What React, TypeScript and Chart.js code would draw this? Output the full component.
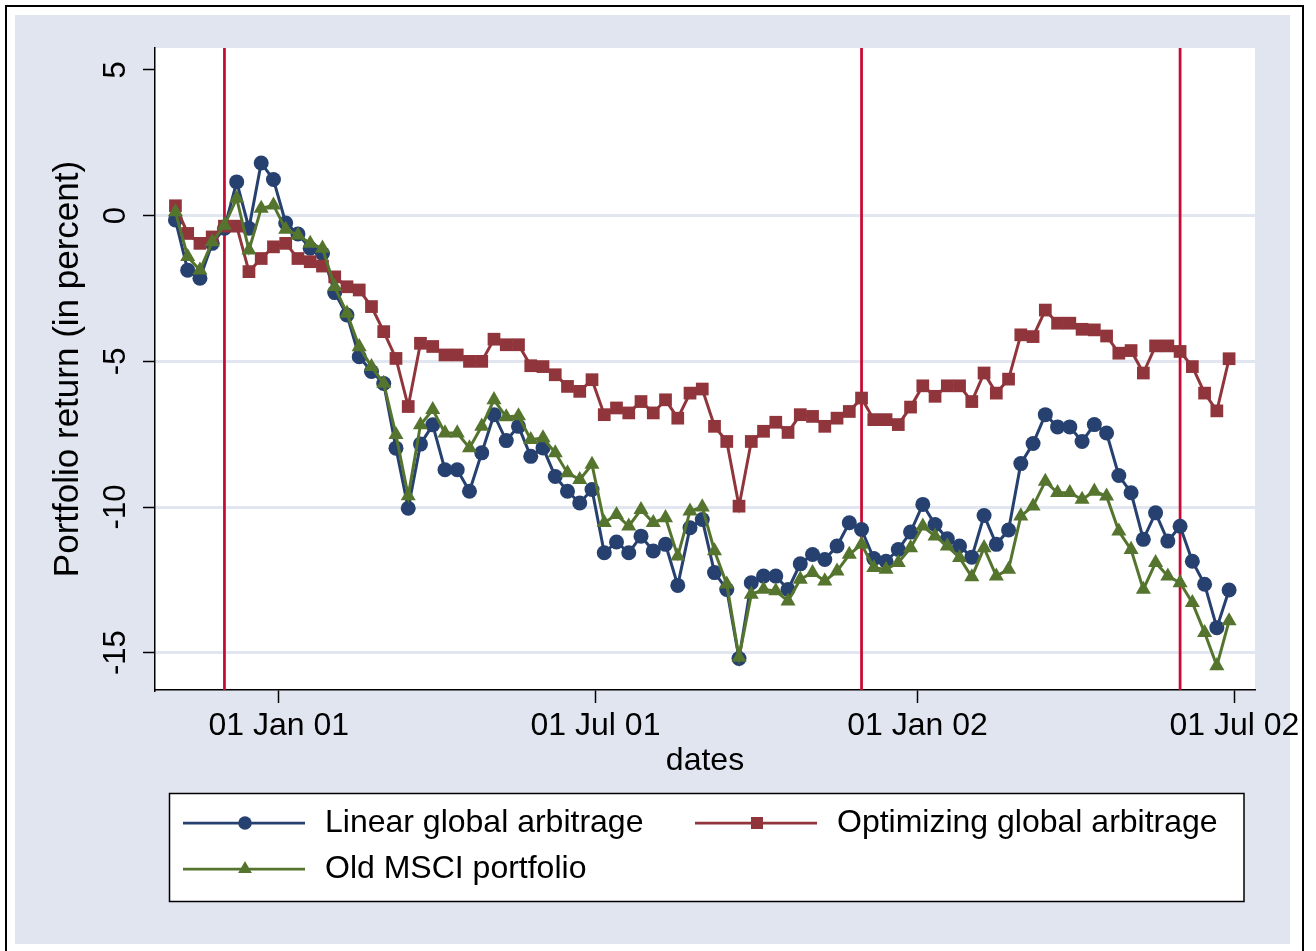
import React, { useEffect, useRef } from 'react';
import { Chart, registerables } from 'chart.js';

Chart.register(...registerables);

// ---------- data ----------
const dates = [
  '2000-11-03', '2000-11-10', '2000-11-17', '2000-11-24', '2000-12-01', '2000-12-08', '2000-12-15', '2000-12-22', '2000-12-29',
  '2001-01-05', '2001-01-12', '2001-01-19', '2001-01-26', '2001-02-02', '2001-02-09', '2001-02-16', '2001-02-23',
  '2001-03-02', '2001-03-09', '2001-03-16', '2001-03-23', '2001-03-30', '2001-04-06', '2001-04-13', '2001-04-20', '2001-04-27',
  '2001-05-04', '2001-05-11', '2001-05-18', '2001-05-25', '2001-06-01', '2001-06-08', '2001-06-15', '2001-06-22', '2001-06-29',
  '2001-07-06', '2001-07-13', '2001-07-20', '2001-07-27', '2001-08-03', '2001-08-10', '2001-08-17', '2001-08-24', '2001-08-31',
  '2001-09-07', '2001-09-14', '2001-09-21', '2001-09-28', '2001-10-05', '2001-10-12', '2001-10-19', '2001-10-26',
  '2001-11-02', '2001-11-09', '2001-11-16', '2001-11-23', '2001-11-30', '2001-12-07', '2001-12-14', '2001-12-21', '2001-12-28',
  '2002-01-04', '2002-01-11', '2002-01-18', '2002-01-25', '2002-02-01', '2002-02-08', '2002-02-15', '2002-02-22',
  '2002-03-01', '2002-03-08', '2002-03-15', '2002-03-22', '2002-03-29', '2002-04-05', '2002-04-12', '2002-04-19', '2002-04-26',
  '2002-05-03', '2002-05-10', '2002-05-17', '2002-05-24', '2002-05-31', '2002-06-07', '2002-06-14', '2002-06-21', '2002-06-28',
];

const linearGlobal = [
  -0.15, -1.87, -2.15, -0.95, -0.43, 1.16, -0.43, 1.81, 1.24,
  -0.25, -0.63, -1.12, -1.3, -2.64, -3.41, -4.84, -5.35,
  -5.76, -7.98, -10.04, -7.84, -7.18, -8.72, -8.72, -9.46, -8.14,
  -6.83, -7.72, -7.23, -8.26, -7.97, -8.95, -9.46, -9.86, -9.4,
  -11.57, -11.2, -11.57, -11.0, -11.51, -11.28, -12.69, -10.71, -10.43,
  -12.25, -12.83, -15.2, -12.6, -12.37, -12.37, -12.83, -11.95,
  -11.63, -11.8, -11.34, -10.54, -10.77, -11.77, -11.86, -11.46, -10.86,
  -9.91, -10.6, -11.09, -11.34, -11.72, -10.29, -11.28, -10.79,
  -8.51, -7.82, -6.83, -7.25, -7.25, -7.75, -7.17, -7.46, -8.92,
  -9.51, -11.11, -10.2, -11.17, -10.66, -11.86, -12.65, -14.14, -12.85,
];

const optimizingGlobal = [
  0.34, -0.61, -0.95, -0.73, -0.36, -0.36, -1.92, -1.47, -1.07,
  -0.95, -1.47, -1.58, -1.73, -2.1, -2.44, -2.55, -3.12,
  -3.98, -4.9, -6.55, -4.38, -4.49, -4.78, -4.78, -5.0, -5.0,
  -4.24, -4.43, -4.43, -5.15, -5.18, -5.46, -5.86, -6.03, -5.63,
  -6.83, -6.6, -6.77, -6.38, -6.77, -6.32, -6.95, -6.09, -5.95,
  -7.23, -7.75, -9.97, -7.75, -7.4, -7.09, -7.44, -6.83,
  -6.89, -7.23, -6.95, -6.72, -6.26, -7.0, -7.0, -7.17, -6.57,
  -5.84, -6.2, -5.84, -5.84, -6.38, -5.4, -6.09, -5.61,
  -4.09, -4.15, -3.24, -3.69, -3.69, -3.9, -3.92, -4.13, -4.72,
  -4.63, -5.4, -4.47, -4.47, -4.66, -5.18, -6.09, -6.7, -4.91,
];

const oldMsci = [
  0.13, -1.41, -1.87, -0.9, -0.33, 0.59, -1.18, 0.25, 0.36,
  -0.47, -0.67, -0.95, -1.12, -2.44, -3.35, -4.5, -5.18,
  -5.76, -7.52, -9.62, -7.18, -6.66, -7.46, -7.46, -7.97, -7.23,
  -6.32, -6.91, -6.87, -7.69, -7.63, -8.14, -8.83, -9.06, -8.54,
  -10.54, -10.26, -10.66, -10.09, -10.54, -10.37, -11.69, -10.14, -10.0,
  -11.51, -12.65, -15.16, -13.0, -12.83, -12.88, -13.23, -12.48,
  -12.25, -12.54, -12.2, -11.63, -11.28, -12.08, -12.14, -11.91, -11.4,
  -10.66, -11.0, -11.34, -11.74, -12.4, -11.4, -12.37, -12.14,
  -10.31, -9.97, -9.12, -9.51, -9.51, -9.74, -9.46, -9.63, -10.83,
  -11.46, -12.83, -11.91, -12.37, -12.6, -13.28, -14.31, -15.45, -13.91,
];

const eventDates = ['2000-12-01', '2001-11-30', '2002-05-31'];
const xTickDates = ['2001-01-01', '2001-07-01', '2002-01-01', '2002-07-01'];
const xTickLabels = ['01 Jan 01', '01 Jul 01', '01 Jan 02', '01 Jul 02'];
const yTickValues = [-15, -10, -5, 0, 5];
const seriesNames = ['Linear global arbitrage', 'Optimizing global arbitrage', 'Old MSCI portfolio'];

// ---------- styles ----------
const BLUE = '#26406F';
const RED = '#90353B';
const GREEN = '#55752F';
const EVENT = '#C80A32';
const BG = '#E1E5F0';
const GRID = '#E1E6F0';
const FONT = "'Liberation Sans', Arial, Helvetica, sans-serif";

const CIRCLE_R = 7.5;
const SQUARE_R = 9;
const TRI_R = 8.7;
const LINE_W = 3;

const X_MIN = -70.68;
const X_MAX = 557.8;
const Y_MIN = -16.28;
const Y_MAX = 5.755;

const EPOCH = Date.UTC(2001, 0, 1);
function dayNum(s: string): number {
  const [y, m, d] = s.split('-').map(Number);
  return (Date.UTC(y, m - 1, d) - EPOCH) / 86400000;
}

function drawMarker(ctx: CanvasRenderingContext2D, style: string, x: number, y: number, color: string) {
  ctx.save();
  ctx.fillStyle = color;
  ctx.beginPath();
  if (style === 'circle') {
    ctx.arc(x, y, 6.75, 0, Math.PI * 2);
  } else if (style === 'rect') {
    ctx.rect(x - 6, y - 6, 12, 12);
  } else {
    const r = 8;
    for (let k = 0; k < 3; k++) {
      const a = (k * 2 * Math.PI) / 3;
      const px = x + Math.sin(a) * r;
      const py = y - Math.cos(a) * r;
      if (k === 0) ctx.moveTo(px, py);
      else ctx.lineTo(px, py);
    }
    ctx.closePath();
  }
  ctx.fill();
  ctx.restore();
}

const backgroundPlugin = {
  id: 'stataBackground',
  beforeDraw(chart: any) {
    const { ctx, chartArea } = chart;
    ctx.save();
    ctx.fillStyle = '#ffffff';
    ctx.fillRect(0, 0, chart.width, chart.height);
    ctx.strokeStyle = '#000000';
    ctx.lineWidth = 2;
    ctx.strokeRect(6, 6, 1297, 960);
    ctx.fillStyle = BG;
    ctx.fillRect(15, 15, 1275, 929);
    ctx.fillStyle = '#ffffff';
    ctx.fillRect(chartArea.left, chartArea.top, chartArea.right - chartArea.left, chartArea.bottom - chartArea.top);
    ctx.restore();
  },
};

const legendItems = [
  { label: seriesNames[0], color: BLUE, style: 'circle', x: 183, y: 823 },
  { label: seriesNames[1], color: RED, style: 'rect', x: 695, y: 823 },
  { label: seriesNames[2], color: GREEN, style: 'triangle', x: 183, y: 869 },
];

const legendPlugin = {
  id: 'stataLegend',
  afterDraw(chart: any) {
    const { ctx } = chart;
    ctx.save();
    ctx.fillStyle = '#ffffff';
    ctx.fillRect(169.5, 793.5, 1074.5, 108);
    ctx.strokeStyle = '#000000';
    ctx.lineWidth = 1.5;
    ctx.strokeRect(169.5, 793.5, 1074.5, 108);
    ctx.font = `32px ${FONT}`;
    ctx.textBaseline = 'middle';
    ctx.textAlign = 'left';
    for (const it of legendItems) {
      ctx.strokeStyle = it.color;
      ctx.lineWidth = 2.75;
      ctx.beginPath();
      ctx.moveTo(it.x, it.y);
      ctx.lineTo(it.x + 122, it.y);
      ctx.stroke();
      drawMarker(ctx, it.style, it.x + 62, it.y, it.color);
      ctx.fillStyle = '#000000';
      ctx.fillText(it.label, it.x + 142, it.y);
    }
    ctx.restore();
  },
};

export default function App() {
  const canvasRef = useRef<HTMLCanvasElement | null>(null);

  useEffect(() => {
    document.body.style.margin = '0';
    const canvas = canvasRef.current;
    if (!canvas) return;

    Chart.defaults.font.family = FONT;
    Chart.defaults.color = '#000000';

    const xs = dates.map(dayNum);
    const toPts = (vals: number[]) => vals.map((v, i) => ({ x: xs[i], y: v }));

    const eventSets = eventDates.map((d) => ({
      label: 'event ' + d,
      data: [
        { x: dayNum(d), y: Y_MIN },
        { x: dayNum(d), y: Y_MAX },
      ],
      borderColor: EVENT,
      borderWidth: 2.75,
      pointRadius: 0,
      order: 10,
    }));

    const series = [
      { label: seriesNames[0], data: toPts(linearGlobal), color: BLUE, style: 'circle', radius: CIRCLE_R, order: 2 },
      { label: seriesNames[1], data: toPts(optimizingGlobal), color: RED, style: 'rect', radius: SQUARE_R, order: 1 },
      { label: seriesNames[2], data: toPts(oldMsci), color: GREEN, style: 'triangle', radius: TRI_R, order: 0 },
    ].map((s) => ({
      label: s.label,
      data: s.data,
      borderColor: s.color,
      backgroundColor: s.color,
      borderWidth: LINE_W,
      pointStyle: s.style,
      pointRadius: s.radius,
      pointBackgroundColor: s.color,
      pointBorderColor: s.color,
      pointBorderWidth: 0,
      tension: 0,
      order: s.order,
    }));

    const chart = new Chart(canvas, {
      type: 'line',
      data: { datasets: [...eventSets, ...series] as any },
      options: {
        responsive: false,
        animation: false,
        devicePixelRatio: 1,
        layout: { padding: { left: 0, right: 61, top: 48, bottom: 0 } },
        plugins: { legend: { display: false }, tooltip: { enabled: false } },
        scales: {
          x: {
            type: 'linear',
            min: X_MIN,
            max: X_MAX,
            afterBuildTicks: (s: any) => {
              s.ticks = xTickDates.map((d) => ({ value: dayNum(d) }));
            },
            afterFit: (s: any) => {
              s.height = 261;
              s.paddingLeft = 0;
              s.paddingRight = 0;
              s.paddingTop = 0;
              s.paddingBottom = 0;
            },
            ticks: {
              autoSkip: false,
              minRotation: 0,
              maxRotation: 0,
              padding: 4,
              color: '#000000',
              font: { size: 32 },
              callback: (v: any) => {
                const idx = xTickDates.findIndex((d) => dayNum(d) === v);
                return idx >= 0 ? xTickLabels[idx] : '';
              },
            },
            grid: {
              drawOnChartArea: false,
              drawTicks: true,
              tickLength: 13,
              tickColor: '#000000',
              tickWidth: 1.5,
            },
            border: { display: true, color: '#000000', width: 1.5 },
            title: {
              display: true,
              text: 'dates',
              color: '#000000',
              font: { size: 32 },
              padding: { top: 0, bottom: 171 },
            },
          },
          y: {
            type: 'linear',
            min: Y_MIN,
            max: Y_MAX,
            afterBuildTicks: (s: any) => {
              s.ticks = yTickValues.map((v) => ({ value: v }));
            },
            afterFit: (s: any) => {
              s.width = 155;
              s.paddingLeft = 0;
              s.paddingRight = 0;
              s.paddingTop = 0;
              s.paddingBottom = 0;
            },
            ticks: {
              minRotation: 90,
              maxRotation: 90,
              crossAlign: 'center',
              padding: 4,
              color: '#000000',
              font: { size: 31 },
              callback: (v: any) => String(v),
            },
            grid: {
              color: (c: any) => (c.tick && c.tick.value === 5 ? 'rgba(0,0,0,0)' : GRID),
              lineWidth: 3,
              drawTicks: true,
              tickLength: 12,
              tickColor: '#000000',
              tickWidth: 1.5,
            },
            border: { display: true, color: '#000000', width: 1.5 },
            title: {
              display: true,
              text: 'Portfolio return (in percent)',
              color: '#000000',
              font: { size: 35 },
              padding: { top: 47, bottom: 0 },
            },
          },
        },
      },
      plugins: [backgroundPlugin, legendPlugin],
    } as any);

    return () => {
      chart.destroy();
    };
  }, []);

  return (
    <div style={{ position: 'absolute', left: 0, top: 0, width: 1316, height: 951 }}>
      <canvas ref={canvasRef} width={1316} height={951} style={{ display: 'block', width: 1316, height: 951 }} />
    </div>
  );
}
